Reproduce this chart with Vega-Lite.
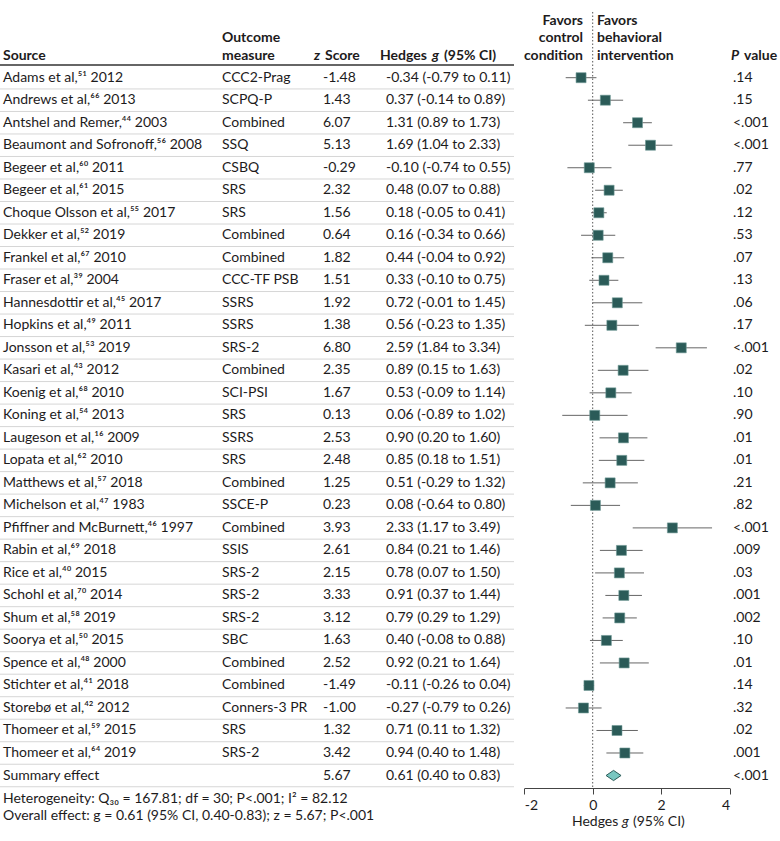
{
  "$schema": "https://vega.github.io/schema/vega-lite/v6.json",
  "width": 780,
  "height": 788,
  "autosize": {"type": "none"},
  "padding": {"left": 0, "top": 0, "right": 0, "bottom": 53},
  "background": "white",
  "config": {
    "view": {"stroke": null},
    "font": "Lato, DejaVu Sans",
    "text": {"font": "Lato, DejaVu Sans", "fontSize": 14, "color": "#1d1b1c"}
  },
  "data": {"values": [{}]},
  "datasets": {
    "studies": [
      {"row": 0, "source": "Adams et al,⁵¹ 2012", "measure": "CCC2-Prag", "z": "-1.48", "gci": "-0.34 (-0.79 to 0.11)", "p": ".14", "g": -0.34, "lo": -0.79, "hi": 0.11, "kind": "study"},
      {"row": 1, "source": "Andrews et al,⁶⁶ 2013", "measure": "SCPQ-P", "z": "1.43", "gci": "0.37 (-0.14 to 0.89)", "p": ".15", "g": 0.37, "lo": -0.14, "hi": 0.89, "kind": "study"},
      {"row": 2, "source": "Antshel and Remer,⁴⁴ 2003", "measure": "Combined", "z": "6.07", "gci": "1.31 (0.89 to 1.73)", "p": "<.001", "g": 1.31, "lo": 0.89, "hi": 1.73, "kind": "study"},
      {"row": 3, "source": "Beaumont and Sofronoff,⁵⁶ 2008", "measure": "SSQ", "z": "5.13", "gci": "1.69 (1.04 to 2.33)", "p": "<.001", "g": 1.69, "lo": 1.04, "hi": 2.33, "kind": "study"},
      {"row": 4, "source": "Begeer et al,⁶⁰ 2011", "measure": "CSBQ", "z": "-0.29", "gci": "-0.10 (-0.74 to 0.55)", "p": ".77", "g": -0.10, "lo": -0.74, "hi": 0.55, "kind": "study"},
      {"row": 5, "source": "Begeer et al,⁶¹ 2015", "measure": "SRS", "z": "2.32", "gci": "0.48 (0.07 to 0.88)", "p": ".02", "g": 0.48, "lo": 0.07, "hi": 0.88, "kind": "study"},
      {"row": 6, "source": "Choque Olsson et al,⁵⁵ 2017", "measure": "SRS", "z": "1.56", "gci": "0.18 (-0.05 to 0.41)", "p": ".12", "g": 0.18, "lo": -0.05, "hi": 0.41, "kind": "study"},
      {"row": 7, "source": "Dekker et al,⁵² 2019", "measure": "Combined", "z": "0.64", "gci": "0.16 (-0.34 to 0.66)", "p": ".53", "g": 0.16, "lo": -0.34, "hi": 0.66, "kind": "study"},
      {"row": 8, "source": "Frankel et al,⁶⁷ 2010", "measure": "Combined", "z": "1.82", "gci": "0.44 (-0.04 to 0.92)", "p": ".07", "g": 0.44, "lo": -0.04, "hi": 0.92, "kind": "study"},
      {"row": 9, "source": "Fraser et al,³⁹ 2004", "measure": "CCC-TF PSB", "z": "1.51", "gci": "0.33 (-0.10 to 0.75)", "p": ".13", "g": 0.33, "lo": -0.10, "hi": 0.75, "kind": "study"},
      {"row": 10, "source": "Hannesdottir et al,⁴⁵ 2017", "measure": "SSRS", "z": "1.92", "gci": "0.72 (-0.01 to 1.45)", "p": ".06", "g": 0.72, "lo": -0.01, "hi": 1.45, "kind": "study"},
      {"row": 11, "source": "Hopkins et al,⁴⁹ 2011", "measure": "SSRS", "z": "1.38", "gci": "0.56 (-0.23 to 1.35)", "p": ".17", "g": 0.56, "lo": -0.23, "hi": 1.35, "kind": "study"},
      {"row": 12, "source": "Jonsson et al,⁵³ 2019", "measure": "SRS-2", "z": "6.80", "gci": "2.59 (1.84 to 3.34)", "p": "<.001", "g": 2.59, "lo": 1.84, "hi": 3.34, "kind": "study"},
      {"row": 13, "source": "Kasari et al,⁴³ 2012", "measure": "Combined", "z": "2.35", "gci": "0.89 (0.15 to 1.63)", "p": ".02", "g": 0.89, "lo": 0.15, "hi": 1.63, "kind": "study"},
      {"row": 14, "source": "Koenig et al,⁶⁸ 2010", "measure": "SCI-PSI", "z": "1.67", "gci": "0.53 (-0.09 to 1.14)", "p": ".10", "g": 0.53, "lo": -0.09, "hi": 1.14, "kind": "study"},
      {"row": 15, "source": "Koning et al,⁵⁴ 2013", "measure": "SRS", "z": "0.13", "gci": "0.06 (-0.89 to 1.02)", "p": ".90", "g": 0.06, "lo": -0.89, "hi": 1.02, "kind": "study"},
      {"row": 16, "source": "Laugeson et al,¹⁶ 2009", "measure": "SSRS", "z": "2.53", "gci": "0.90 (0.20 to 1.60)", "p": ".01", "g": 0.90, "lo": 0.20, "hi": 1.60, "kind": "study"},
      {"row": 17, "source": "Lopata et al,⁶² 2010", "measure": "SRS", "z": "2.48", "gci": "0.85 (0.18 to 1.51)", "p": ".01", "g": 0.85, "lo": 0.18, "hi": 1.51, "kind": "study"},
      {"row": 18, "source": "Matthews et al,⁵⁷ 2018", "measure": "Combined", "z": "1.25", "gci": "0.51 (-0.29 to 1.32)", "p": ".21", "g": 0.51, "lo": -0.29, "hi": 1.32, "kind": "study"},
      {"row": 19, "source": "Michelson et al,⁴⁷ 1983", "measure": "SSCE-P", "z": "0.23", "gci": "0.08 (-0.64 to 0.80)", "p": ".82", "g": 0.08, "lo": -0.64, "hi": 0.80, "kind": "study"},
      {"row": 20, "source": "Pfiffner and McBurnett,⁴⁶ 1997", "measure": "Combined", "z": "3.93", "gci": "2.33 (1.17 to 3.49)", "p": "<.001", "g": 2.33, "lo": 1.17, "hi": 3.49, "kind": "study"},
      {"row": 21, "source": "Rabin et al,⁶⁹ 2018", "measure": "SSIS", "z": "2.61", "gci": "0.84 (0.21 to 1.46)", "p": ".009", "g": 0.84, "lo": 0.21, "hi": 1.46, "kind": "study"},
      {"row": 22, "source": "Rice et al,⁴⁰ 2015", "measure": "SRS-2", "z": "2.15", "gci": "0.78 (0.07 to 1.50)", "p": ".03", "g": 0.78, "lo": 0.07, "hi": 1.50, "kind": "study"},
      {"row": 23, "source": "Schohl et al,⁷⁰ 2014", "measure": "SRS-2", "z": "3.33", "gci": "0.91 (0.37 to 1.44)", "p": ".001", "g": 0.91, "lo": 0.37, "hi": 1.44, "kind": "study"},
      {"row": 24, "source": "Shum et al,⁵⁸ 2019", "measure": "SRS-2", "z": "3.12", "gci": "0.79 (0.29 to 1.29)", "p": ".002", "g": 0.79, "lo": 0.29, "hi": 1.29, "kind": "study"},
      {"row": 25, "source": "Soorya et al,⁵⁰ 2015", "measure": "SBC", "z": "1.63", "gci": "0.40 (-0.08 to 0.88)", "p": ".10", "g": 0.40, "lo": -0.08, "hi": 0.88, "kind": "study"},
      {"row": 26, "source": "Spence et al,⁴⁸ 2000", "measure": "Combined", "z": "2.52", "gci": "0.92 (0.21 to 1.64)", "p": ".01", "g": 0.92, "lo": 0.21, "hi": 1.64, "kind": "study"},
      {"row": 27, "source": "Stichter et al,⁴¹ 2018", "measure": "Combined", "z": "-1.49", "gci": "-0.11 (-0.26 to 0.04)", "p": ".14", "g": -0.11, "lo": -0.26, "hi": 0.04, "kind": "study"},
      {"row": 28, "source": "Storebø et al,⁴² 2012", "measure": "Conners-3 PR", "z": "-1.00", "gci": "-0.27 (-0.79 to 0.26)", "p": ".32", "g": -0.27, "lo": -0.79, "hi": 0.26, "kind": "study"},
      {"row": 29, "source": "Thomeer et al,⁵⁹ 2015", "measure": "SRS", "z": "1.32", "gci": "0.71 (0.11 to 1.32)", "p": ".02", "g": 0.71, "lo": 0.11, "hi": 1.32, "kind": "study"},
      {"row": 30, "source": "Thomeer et al,⁶⁴ 2019", "measure": "SRS-2", "z": "3.42", "gci": "0.94 (0.40 to 1.48)", "p": ".001", "g": 0.94, "lo": 0.40, "hi": 1.48, "kind": "study"},
      {"row": 31, "source": "Summary effect", "measure": "", "z": "5.67", "gci": "0.61 (0.40 to 0.83)", "p": "<.001", "g": 0.61, "lo": 0.40, "hi": 0.83, "kind": "summary"}
    ]
  },
  "layer": [
    {
      "data": {"name": "studies"},
      "mark": {"type": "rule", "color": "#d6d6d6", "strokeWidth": 1, "yOffset": 11.25},
      "encoding": {
        "y": {"field": "row", "type": "quantitative", "scale": {"domain": [0, 31], "range": [77.7, 775.5], "nice": false, "zero": false}, "axis": null},
        "x": {"value": 0},
        "x2": {"value": 514}
      }
    },
    {
      "mark": {"type": "rule", "color": "#333333", "strokeWidth": 1.5},
      "encoding": {
        "y": {"datum": -0.56, "type": "quantitative", "scale": {"domain": [0, 31], "range": [77.7, 775.5], "nice": false, "zero": false}, "axis": null},
        "x": {"value": 0},
        "x2": {"value": 514}
      }
    },
    {
      "data": {"name": "studies"},
      "transform": [{"filter": "datum.kind === 'study'"}],
      "mark": {"type": "rule", "color": "#666666", "strokeWidth": 1},
      "encoding": {
        "x": {
          "field": "lo", "type": "quantitative", "title": null,
          "scale": {"domain": [-2, 4], "range": [524.3, 729.5], "nice": false, "zero": false},
          "axis": {
            "values": [-2, 0, 2, 4], "labelExpr": "'' + datum.value", "title": null,
            "grid": false, "domainColor": "#444444", "tickColor": "#444444", "tickSize": 6,
            "labelFontSize": 14, "labelColor": "#1d1b1c", "labelPadding": 4, "labelFont": "Lato, DejaVu Sans"
          }
        },
        "x2": {"field": "hi"},
        "y": {"field": "row", "type": "quantitative", "scale": {"domain": [0, 31], "range": [77.7, 775.5], "nice": false, "zero": false}, "axis": null}
      }
    },
    {
      "mark": {"type": "rule", "color": "#555555", "strokeWidth": 1, "strokeDash": [1.5, 2]},
      "encoding": {
        "x": {"datum": 0, "type": "quantitative", "title": null, "scale": {"domain": [-2, 4], "range": [524.3, 729.5], "nice": false, "zero": false}},
        "y": {"datum": -2.92, "type": "quantitative", "scale": {"domain": [0, 31], "range": [77.7, 775.5], "nice": false, "zero": false}, "axis": null},
        "y2": {"datum": 31.55}
      }
    },
    {
      "data": {"name": "studies"},
      "transform": [{"filter": "datum.kind === 'study'"}],
      "mark": {"type": "square", "size": 100, "filled": true, "color": "#2b5b58", "opacity": 1, "stroke": "#6f9996", "strokeWidth": 0.6},
      "encoding": {
        "x": {"field": "g", "type": "quantitative", "title": null, "scale": {"domain": [-2, 4], "range": [524.3, 729.5], "nice": false, "zero": false}},
        "y": {"field": "row", "type": "quantitative", "scale": {"domain": [0, 31], "range": [77.7, 775.5], "nice": false, "zero": false}, "axis": null}
      }
    },
    {
      "data": {"name": "studies"},
      "transform": [{"filter": "datum.kind === 'summary'"}],
      "mark": {"type": "point", "shape": "M-1,0L0,-0.68L1,0L0,0.68Z", "size": 225, "filled": true, "fill": "#79c6c0", "stroke": "#2b5b58", "strokeWidth": 1, "opacity": 1},
      "encoding": {
        "x": {"field": "g", "type": "quantitative", "title": null, "scale": {"domain": [-2, 4], "range": [524.3, 729.5], "nice": false, "zero": false}},
        "y": {"field": "row", "type": "quantitative", "scale": {"domain": [0, 31], "range": [77.7, 775.5], "nice": false, "zero": false}, "axis": null}
      }
    },
    {
      "data": {"name": "studies"},
      "mark": {"type": "text", "align": "left", "baseline": "middle"},
      "encoding": {
        "x": {"value": 3},
        "y": {"field": "row", "type": "quantitative", "scale": {"domain": [0, 31], "range": [77.7, 775.5], "nice": false, "zero": false}, "axis": null},
        "text": {"field": "source"}
      }
    },
    {
      "data": {"name": "studies"},
      "mark": {"type": "text", "align": "left", "baseline": "middle"},
      "encoding": {
        "x": {"value": 222},
        "y": {"field": "row", "type": "quantitative", "scale": {"domain": [0, 31], "range": [77.7, 775.5], "nice": false, "zero": false}, "axis": null},
        "text": {"field": "measure"}
      }
    },
    {
      "data": {"name": "studies"},
      "mark": {"type": "text", "align": "left", "baseline": "middle"},
      "encoding": {
        "x": {"value": 323},
        "y": {"field": "row", "type": "quantitative", "scale": {"domain": [0, 31], "range": [77.7, 775.5], "nice": false, "zero": false}, "axis": null},
        "text": {"field": "z"}
      }
    },
    {
      "data": {"name": "studies"},
      "mark": {"type": "text", "align": "left", "baseline": "middle"},
      "encoding": {
        "x": {"value": 386},
        "y": {"field": "row", "type": "quantitative", "scale": {"domain": [0, 31], "range": [77.7, 775.5], "nice": false, "zero": false}, "axis": null},
        "text": {"field": "gci"}
      }
    },
    {
      "data": {"name": "studies"},
      "mark": {"type": "text", "align": "left", "baseline": "middle"},
      "encoding": {
        "x": {"value": 733},
        "y": {"field": "row", "type": "quantitative", "scale": {"domain": [0, 31], "range": [77.7, 775.5], "nice": false, "zero": false}, "axis": null},
        "text": {"field": "p"}
      }
    },
    {
      "mark": {"type": "text", "align": "left", "baseline": "top", "fontWeight": "bold", "text": "Source"},
      "encoding": {"x": {"value": 3}, "y": {"datum": -1.293, "type": "quantitative", "scale": {"domain": [0, 31], "range": [77.7, 775.5], "nice": false, "zero": false}, "axis": null}}
    },
    {
      "mark": {"type": "text", "align": "left", "baseline": "top", "fontWeight": "bold", "lineHeight": 17.5, "text": ["Outcome", "measure"]},
      "encoding": {"x": {"value": 222}, "y": {"datum": -2.07, "type": "quantitative", "scale": {"domain": [0, 31], "range": [77.7, 775.5], "nice": false, "zero": false}, "axis": null}}
    },
    {
      "mark": {"type": "text", "align": "left", "baseline": "top", "fontWeight": "bold", "fontStyle": "italic", "text": "z"},
      "encoding": {"x": {"value": 314}, "y": {"datum": -1.293, "type": "quantitative", "scale": {"domain": [0, 31], "range": [77.7, 775.5], "nice": false, "zero": false}, "axis": null}}
    },
    {
      "mark": {"type": "text", "align": "left", "baseline": "top", "fontWeight": "bold", "text": "Score"},
      "encoding": {"x": {"value": 325}, "y": {"datum": -1.293, "type": "quantitative", "scale": {"domain": [0, 31], "range": [77.7, 775.5], "nice": false, "zero": false}, "axis": null}}
    },
    {
      "mark": {"type": "text", "align": "left", "baseline": "top", "fontWeight": "bold", "text": "Hedges"},
      "encoding": {"x": {"value": 380}, "y": {"datum": -1.293, "type": "quantitative", "scale": {"domain": [0, 31], "range": [77.7, 775.5], "nice": false, "zero": false}, "axis": null}}
    },
    {
      "mark": {"type": "text", "align": "left", "baseline": "top", "fontWeight": "bold", "fontStyle": "italic", "text": "g"},
      "encoding": {"x": {"value": 432}, "y": {"datum": -1.293, "type": "quantitative", "scale": {"domain": [0, 31], "range": [77.7, 775.5], "nice": false, "zero": false}, "axis": null}}
    },
    {
      "mark": {"type": "text", "align": "left", "baseline": "top", "fontWeight": "bold", "text": "(95% CI)"},
      "encoding": {"x": {"value": 444}, "y": {"datum": -1.293, "type": "quantitative", "scale": {"domain": [0, 31], "range": [77.7, 775.5], "nice": false, "zero": false}, "axis": null}}
    },
    {
      "mark": {"type": "text", "align": "right", "baseline": "top", "fontWeight": "bold", "lineHeight": 17.5, "text": ["Favors", "control", "condition"]},
      "encoding": {"x": {"value": 583}, "y": {"datum": -2.848, "type": "quantitative", "scale": {"domain": [0, 31], "range": [77.7, 775.5], "nice": false, "zero": false}, "axis": null}}
    },
    {
      "mark": {"type": "text", "align": "left", "baseline": "top", "fontWeight": "bold", "lineHeight": 17.5, "text": ["Favors", "behavioral", "intervention"]},
      "encoding": {"x": {"value": 597}, "y": {"datum": -2.848, "type": "quantitative", "scale": {"domain": [0, 31], "range": [77.7, 775.5], "nice": false, "zero": false}, "axis": null}}
    },
    {
      "mark": {"type": "text", "align": "left", "baseline": "top", "fontWeight": "bold", "fontStyle": "italic", "text": "P"},
      "encoding": {"x": {"value": 731}, "y": {"datum": -1.293, "type": "quantitative", "scale": {"domain": [0, 31], "range": [77.7, 775.5], "nice": false, "zero": false}, "axis": null}}
    },
    {
      "mark": {"type": "text", "align": "left", "baseline": "top", "fontWeight": "bold", "text": "value"},
      "encoding": {"x": {"value": 744}, "y": {"datum": -1.293, "type": "quantitative", "scale": {"domain": [0, 31], "range": [77.7, 775.5], "nice": false, "zero": false}, "axis": null}}
    },
    {
      "mark": {"type": "text", "align": "left", "baseline": "top", "text": "Hedges"},
      "encoding": {"x": {"value": 572}, "y": {"datum": 32.75, "type": "quantitative", "scale": {"domain": [0, 31], "range": [77.7, 775.5], "nice": false, "zero": false}, "axis": null}}
    },
    {
      "mark": {"type": "text", "align": "left", "baseline": "top", "fontStyle": "italic", "text": "g"},
      "encoding": {"x": {"value": 622}, "y": {"datum": 32.75, "type": "quantitative", "scale": {"domain": [0, 31], "range": [77.7, 775.5], "nice": false, "zero": false}, "axis": null}}
    },
    {
      "mark": {"type": "text", "align": "left", "baseline": "top", "text": "(95% CI)"},
      "encoding": {"x": {"value": 633}, "y": {"datum": 32.75, "type": "quantitative", "scale": {"domain": [0, 31], "range": [77.7, 775.5], "nice": false, "zero": false}, "axis": null}}
    },
    {
      "mark": {"type": "text", "align": "left", "baseline": "top", "lineHeight": 17, "text": ["Heterogeneity: Q₃₀ = 167.81; df = 30; P<.001; I² = 82.12", "Overall effect: g = 0.61 (95% CI, 0.40-0.83); z = 5.67; P<.001"]},
      "encoding": {"x": {"value": 3}, "y": {"datum": 31.73, "type": "quantitative", "scale": {"domain": [0, 31], "range": [77.7, 775.5], "nice": false, "zero": false}, "axis": null}}
    }
  ]
}
